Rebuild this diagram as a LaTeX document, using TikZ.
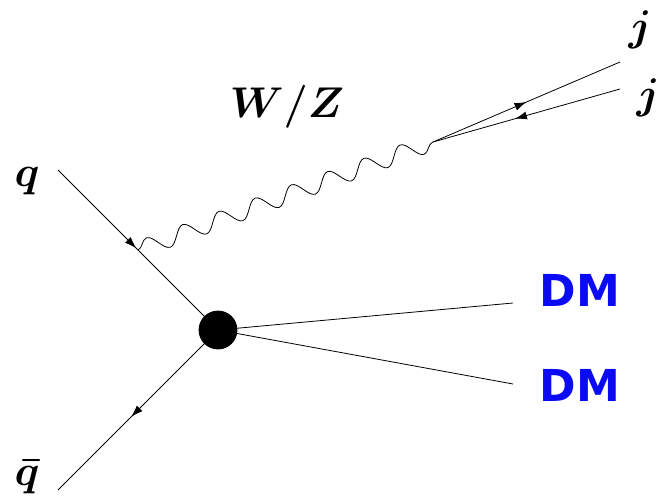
\RequirePackage{fix-cm}
\documentclass[tikz,border=0pt]{standalone}
\usepackage{fontspec}
\usepackage{tikz}
\usetikzlibrary{arrows.meta, decorations.pathmorphing, decorations.markings}
\newfontfamily\dmfont{DejaVu Sans}
\definecolor{dmblue}{HTML}{0A0AF5}

\begin{document}
\begin{tikzpicture}[x=1pt, y=-1pt, line width=0.8pt,
  fermion/.style={postaction={decorate}, decoration={markings,
    mark=at position #1 with {\arrow{Latex[length=12pt,width=8pt]}}}},
  fermion/.default=0.5,
  antifermion/.style={postaction={decorate}, decoration={markings,
    mark=at position #1 with {\arrow{Latex[length=12pt,width=8pt,reversed]}}}},
  antifermion/.default=0.5,
  boson/.style={decorate, decoration={snake, amplitude=8.5pt, segment length=38.6pt}},
  mathlbl/.style={font=\fontsize{43}{50}\selectfont\boldmath, inner sep=0pt},
  dmlbl/.style={font=\fontsize{44}{50}\selectfont\dmfont\bfseries, text=dmblue, inner sep=0pt}]
\useasboundingbox (0,0) rectangle (663,500);
% vertices and free ends
\coordinate (qa) at (58,170);
\coordinate (v1) at (138,250);
\coordinate (qb) at (58,490);
\coordinate (v2) at (433,142);
\coordinate (j1) at (620,62);
\coordinate (j2) at (620,89);
\coordinate (d1) at (513,303);
\coordinate (d2) at (513,384);
\node[circle, fill=black, draw=black, minimum size=38pt, inner sep=0pt] (blob) at (218,330) {};
% quark lines
\draw[fermion=0.98] (qa) -- (v1);
\draw (v1) -- (blob);
\draw[fermion] (blob) -- (qb);
% W/Z and jets
\draw[boson] (v1) -- (v2);
\draw[fermion] (v2) -- (j1);
\draw[antifermion] (v2) -- (j2);
% dark matter
\draw (blob) -- (d1);
\draw (blob) -- (d2);
% labels
\node[mathlbl] (lq) at (27,181) {$q$};
\node[mathlbl] (lqb) at (27,477) {$\bar{q}$};
\node[mathlbl] (lw) at (287,107) {$W/Z$};
\node[mathlbl] (lj1) at (640,30) {$j$};
\node[mathlbl] (lj2) at (648,98) {$j$};
\node[dmlbl] (ld1) at (580,290) {DM};
\node[dmlbl] (ld2) at (580,385) {DM};
\end{tikzpicture}
\end{document}
